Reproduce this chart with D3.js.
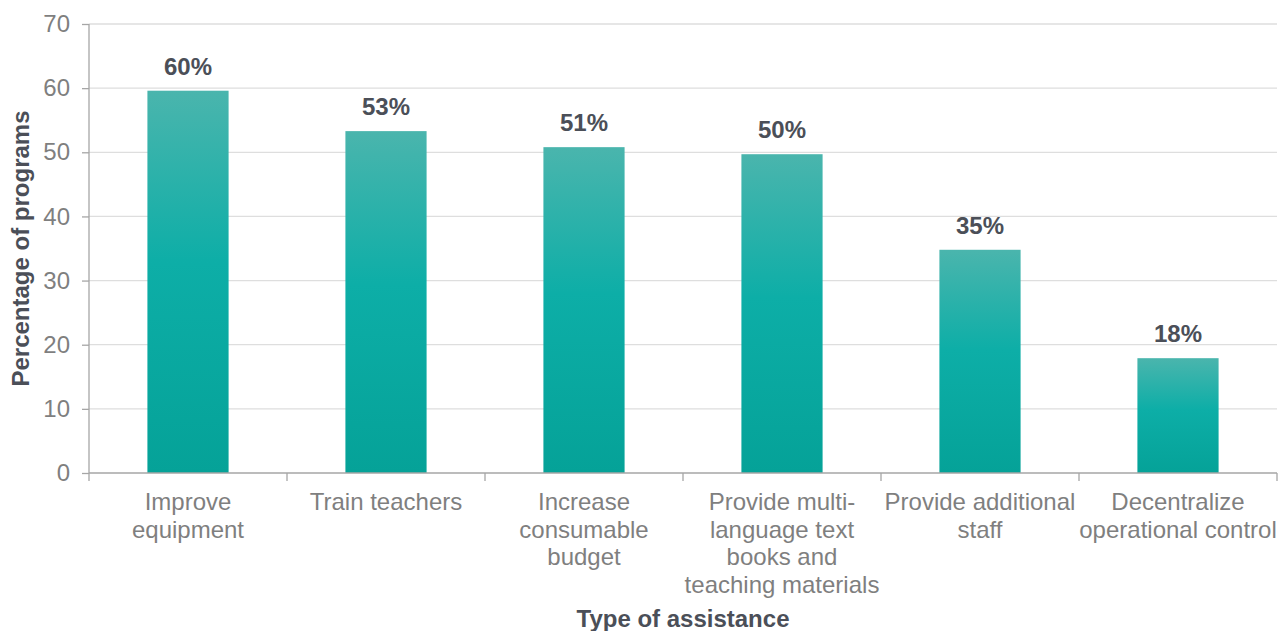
<!DOCTYPE html>
<html>
<head>
<meta charset="utf-8">
<script src="https://cdn.jsdelivr.net/npm/d3@7"></script>
<style>
  html, body { margin: 0; padding: 0; background: #fff; }
  svg { display: block; font-family: "Liberation Sans", Arial, sans-serif; }
</style>
</head>
<body>
<svg id="chart" width="1279" height="631"></svg>
<script>
// Share of programs offering each type of assistance
const categories = [
  ["Improve", "equipment"],
  ["Train teachers"],
  ["Increase", "consumable", "budget"],
  ["Provide multi-", "language text", "books and", "teaching materials"],
  ["Provide additional", "staff"],
  ["Decentralize", "operational control"]
];
const values = [59.6, 53.3, 50.8, 49.7, 34.8, 17.9];
const yTicks = [0, 10, 20, 30, 40, 50, 60, 70];

const svg = d3.select("#chart");
const margin = { left: 89, right: 2, top: 24, bottom: 158 };
const width = 1279, height = 631;
const innerW = width - margin.left - margin.right;
const innerH = height - margin.top - margin.bottom;
const fontSize = 24;

const g = svg.append("g").attr("transform", `translate(${margin.left},${margin.top})`);

const x = d3.scaleBand().domain(d3.range(categories.length)).range([0, innerW]).paddingInner(0.59).paddingOuter(0.295);
const xCat = d3.scaleBand().domain(d3.range(categories.length)).range([0, innerW]);
const y = d3.scaleLinear().domain([0, 70]).range([innerH, 0]);

// Bar fill gradient
const defs = svg.append("defs");
const grad = defs.append("linearGradient").attr("id", "barFill").attr("x1", 0).attr("y1", 0).attr("x2", 0).attr("y2", 1);
grad.append("stop").attr("offset", "0%").attr("stop-color", "#4ab5ad");
grad.append("stop").attr("offset", "45%").attr("stop-color", "#0daea7");
grad.append("stop").attr("offset", "100%").attr("stop-color", "#05a298");

// Gridlines
g.append("g").selectAll("line").data(yTicks.filter(t => t > 0)).join("line")
  .attr("x1", 0).attr("x2", innerW)
  .attr("y1", d => y(d)).attr("y2", d => y(d))
  .attr("stroke", "#dedede").attr("stroke-width", 1.3);

// Bars
g.append("g").selectAll("rect").data(values).join("rect")
  .attr("x", (d, i) => x(i))
  .attr("width", x.bandwidth())
  .attr("y", d => y(d))
  .attr("height", d => innerH - y(d))
  .attr("fill", "url(#barFill)");

// Value labels
g.append("g").selectAll("text").data(values).join("text")
  .attr("x", (d, i) => x(i) + x.bandwidth() / 2)
  .attr("y", d => y(d) - 16)
  .attr("text-anchor", "middle")
  .attr("font-size", fontSize).attr("font-weight", "bold").attr("fill", "#4b4f58")
  .text(d => d3.format(".0f")(d) + "%");

// Y axis
const yAxis = g.append("g").call(d3.axisLeft(y).tickValues(yTicks).tickSize(7).tickPadding(12));
yAxis.select(".domain").attr("stroke", "#a6a6a6").attr("stroke-width", 1.3).attr("d", `M0,${innerH}V0`);
yAxis.selectAll(".tick line").attr("stroke", "#a6a6a6").attr("stroke-width", 1.3);
yAxis.selectAll(".tick text").attr("font-size", fontSize).attr("fill", "#7f7f7f").attr("font-family", "Liberation Sans, Arial, sans-serif");

// X axis baseline and category separators
const xAxis = g.append("g").attr("transform", `translate(0,${innerH})`);
xAxis.append("line").attr("x1", 0).attr("x2", innerW).attr("stroke", "#a6a6a6").attr("stroke-width", 1.3);
xAxis.selectAll("line.sep").data(d3.range(categories.length + 1)).join("line").attr("class", "sep")
  .attr("x1", d => d * xCat.bandwidth()).attr("x2", d => d * xCat.bandwidth())
  .attr("y1", 0).attr("y2", 8)
  .attr("stroke", "#a6a6a6").attr("stroke-width", 1.3);

// Category labels
const catText = xAxis.selectAll("text.cat").data(categories).join("text").attr("class", "cat")
  .attr("text-anchor", "middle").attr("font-size", fontSize).attr("fill", "#7f7f7f");
catText.selectAll("tspan").data((d, i) => d.map(line => ({ line, i }))).join("tspan")
  .attr("x", d => xCat(d.i) + xCat.bandwidth() / 2)
  .attr("y", (d, j) => 37 + j * 27.5)
  .text(d => d.line);

// Axis titles
svg.append("text")
  .attr("x", margin.left + innerW / 2).attr("y", 627)
  .attr("text-anchor", "middle").attr("font-size", fontSize).attr("font-weight", "bold").attr("fill", "#4b4f58")
  .text("Type of assistance");

svg.append("text")
  .attr("transform", `translate(29,${margin.top + innerH / 2}) rotate(-90)`)
  .attr("text-anchor", "middle").attr("font-size", fontSize).attr("font-weight", "bold").attr("fill", "#4b4f58")
  .text("Percentage of programs");
</script>
</body>
</html>
